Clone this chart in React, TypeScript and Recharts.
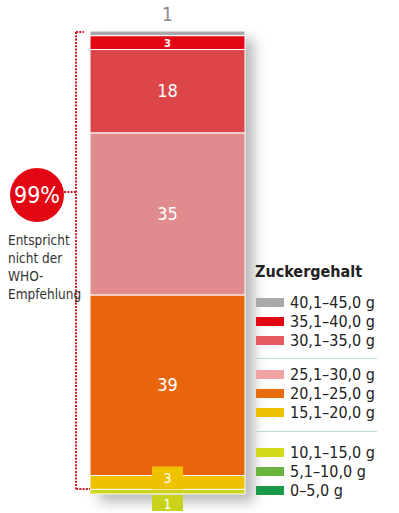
import { BarChart, Bar, XAxis, YAxis, LabelList, Legend } from 'recharts';

// bottom-to-top stacking order
const RANGES = ['0–5,0 g', '5,1–10,0 g', '10,1–15,0 g', '15,1–20,0 g', '20,1–25,0 g', '25,1–30,0 g', '30,1–35,0 g', '35,1–40,0 g', '40,1–45,0 g'];
const SHARES = [0, 0, 1, 3, 39, 35, 18, 3, 1];
const COLORS = ['#1a9a46', '#6ab33c', '#cfd41c', '#efc200', '#e8650c', '#e08b8d', '#dc4649', '#e30713', '#a9a9a9'];
const LEGEND_COLORS = ['#1a9a46', '#6ab33c', '#d4d91a', '#efc200', '#ea6a0e', '#f0a2a5', '#e55a5f', '#e30713', '#a9a9a9'];
const KEYS = RANGES.map((_, i) => `s${i}`);

const row: Record<string, number | string> = { name: 'Tee' };
KEYS.forEach((k, i) => { row[k] = SHARES[i]; });
const data = [row];

const FONT = '"Liberation Sans Narrow", "DejaVu Sans Condensed", "Open Sans", sans-serif';
const RED_DOT = '#d51a22';

function SegmentLabel(props: any) {
  const { x, y, width, height, value, idx } = props;
  if (!value) return null;
  const cx = x + width / 2;
  if (idx === 8) {
    return (
      <text x={cx} y={y - 10} textAnchor="middle" fill="#8c8c8c" fontSize={19} fontFamily={FONT}>
        {value}
      </text>
    );
  }
  if (idx === 7) {
    return (
      <text x={cx} y={y + height / 2 + 4} textAnchor="middle" fill="#fff" fontSize={11} fontWeight={700} fontFamily={FONT}>
        {value}
      </text>
    );
  }
  if (idx === 3) {
    return (
      <g>
        <rect x={cx - 15.5} y={y - 9} width={31} height={height + 9} fill={COLORS[3]} />
        <text x={cx} y={y + height / 2 + 1} textAnchor="middle" fill="#fff" fontSize={14} fontFamily={FONT}>
          {value}
        </text>
      </g>
    );
  }
  if (idx === 2) {
    return (
      <g>
        <rect x={cx - 15.5} y={y + height + 1} width={31} height={16} fill="#c9d31c" />
        <text x={cx} y={y + height + 15} textAnchor="middle" fill="#fff" fontSize={14} fontFamily={FONT}>
          {value}
        </text>
      </g>
    );
  }
  return (
    <text x={cx} y={y + height / 2 + 6} textAnchor="middle" fill="#fff" fontSize={18} fontFamily={FONT}>
      {value}
    </text>
  );
}

function LegendBox() {
  const order = RANGES.map((r, i) => ({ r, c: LEGEND_COLORS[i] })).reverse();
  const tops = [302, 321, 340, 374, 393, 412, 452, 471, 490];
  return (
    <div style={{ position: 'absolute', left: 0, top: 0, width: 399, height: 513, pointerEvents: 'none' }}>
      <div style={{ position: 'absolute', left: 255, top: 262, fontFamily: FONT, fontWeight: 700, fontSize: 16, color: '#222' }}>
        Zuckergehalt
      </div>
      {order.map((it, i) => (
        <div key={it.r} style={{ position: 'absolute', left: 256, top: tops[i] - 10, height: 20, display: 'flex', alignItems: 'center' }}>
          <span style={{ width: 28, height: 9, background: it.c, display: 'inline-block', marginRight: 6 }} />
          <span style={{ fontFamily: FONT, fontSize: 16, color: '#222', whiteSpace: 'nowrap' }}>{it.r}</span>
        </div>
      ))}
      <div style={{ position: 'absolute', left: 256, top: 358, width: 121, height: 1, background: '#b8ddd0' }} />
      <div style={{ position: 'absolute', left: 256, top: 431, width: 121, height: 1, background: '#b8ddd0' }} />
    </div>
  );
}

function Annotation() {
  return (
    <svg width={399} height={513} style={{ position: 'absolute', left: 0, top: 0, pointerEvents: 'none' }}>
      <g stroke={RED_DOT} strokeWidth={2} strokeDasharray="2 1.3" fill="none">
        <line x1={76} y1={32} x2={76} y2={489} />
        <line x1={76} y1={32} x2={84} y2={32} />
        <line x1={76} y1={489} x2={90} y2={489} />
        <line x1={64} y1={192} x2={76} y2={192} />
      </g>
      <circle cx={37} cy={195} r={27} fill="#e30713" />
      <text x={37} y={203} textAnchor="middle" fill="#fff" fontSize={23} fontFamily={FONT}>99%</text>
      <text fontFamily={FONT} fontSize={13.5} fill="#333">
        <tspan x={8} y={245}>Entspricht</tspan>
        <tspan x={8} y={263}>nicht der</tspan>
        <tspan x={8} y={281}>WHO-</tspan>
        <tspan x={8} y={299}>Empfehlung</tspan>
      </text>
    </svg>
  );
}

export default function App() {
  return (
    <div style={{ position: 'absolute', left: 0, top: 0, width: 399, height: 513, background: '#fff', overflow: 'hidden' }}>
      <div style={{ position: 'absolute', left: 90, top: 31, width: 155, height: 463, boxShadow: '9px 8px 12px rgba(0,0,0,0.28)' }} />
      <BarChart
        width={399}
        height={513}
        data={data}
        margin={{ top: 31, right: 154, bottom: 19, left: 90 }}
        barCategoryGap={0}
        barGap={0}
        style={{ position: 'absolute', left: 0, top: 0 }}
      >
        <XAxis dataKey="name" hide padding={{ left: 0, right: 0 }} />
        <YAxis hide domain={[0, 100]} />
        {KEYS.map((k, i) => (
          <Bar key={k} dataKey={k} stackId="a" fill={COLORS[i]} stroke="#fff" strokeWidth={1} isAnimationActive={false}>
            <LabelList dataKey={k} content={(p: any) => <SegmentLabel {...p} idx={i} />} />
          </Bar>
        ))}
        <Legend content={() => null} />
      </BarChart>
      <Annotation />
      <LegendBox />
    </div>
  );
}
